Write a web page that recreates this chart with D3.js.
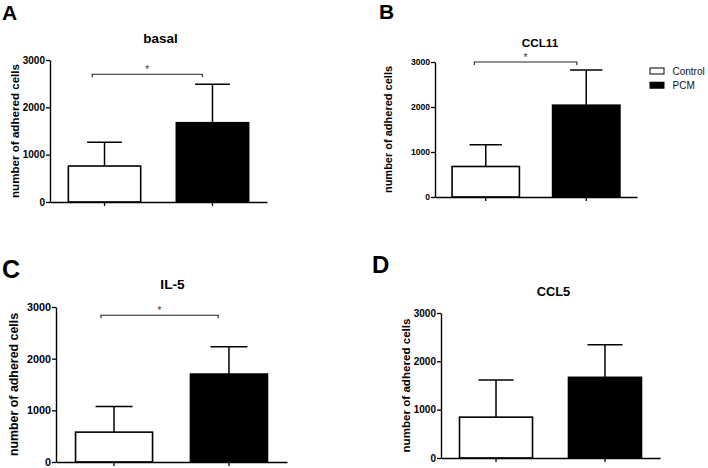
<!DOCTYPE html>
<html><head><meta charset="utf-8">
<script src="https://cdn.jsdelivr.net/npm/d3@7"></script>
<style>
html,body{margin:0;padding:0;background:#fff;}
text{font-family:"Liberation Sans",Arial,Helvetica,sans-serif;}
</style></head>
<body><svg id="c" width="708" height="468"></svg>
<script>
// ---- data ----
const groups = ["Control", "PCM"];
const panelTitles = ["basal", "CCL11", "IL-5", "CCL5"];
const panelLetters = ["A", "B", "C", "D"];
const controlMean = [760, 678, 578, 845];
const controlSD   = [501, 482, 494, 768];
const pcmMean     = [1675, 2040, 1702, 1669];
const pcmSD       = [811, 783, 527, 672];
const sigLevel    = [2700, 3000, 2840, null];   // bracket height (value units); null = no bracket
const sigLabel    = ["*", "*", "*", ""];
const yTicks      = [0, 1000, 2000, 3000];
const yLabel      = "number of adhered cells";

// ---- layout (per panel) ----
const layout = [
  {left:50,  right:267, top:60,  bottom:202, letterX:2,   letterY:20,  letterSize:21, titleY:43,  titleSize:13.5, titleDx:2,  ylabX:14,  ylabSize:11.6, tickSize:10},
  {left:435, right:637, top:62,  bottom:197, letterX:379, letterY:18.5,letterSize:21, titleY:46.5,titleSize:11.7, titleDx:4,  ylabX:388, ylabSize:11,   tickSize:8.6},
  {left:56,  right:287, top:307, bottom:462, letterX:2,   letterY:278, letterSize:25, titleY:289, titleSize:13.7, titleDx:1,  ylabX:14,  ylabSize:12.4, tickSize:10.8},
  {left:441, right:660, top:313, bottom:458, letterX:372, letterY:273, letterSize:24, titleY:296, titleSize:12.8, titleDx:3,  ylabX:405, ylabSize:11.6, tickSize:10}
];

const svg = d3.select("#c");

panelTitles.forEach((title, i) => {
  const L = layout[i];
  const g = svg.append("g");
  const y = d3.scaleLinear().domain([0, 3000]).range([L.bottom, L.top]);
  const x = d3.scaleBand().domain(groups).range([L.left, L.right]).paddingInner(0.33).paddingOuter(0.17);
  const bw = x.bandwidth();
  const vals = [
    {g: groups[0], m: controlMean[i], sd: controlSD[i], fill: "#fff"},
    {g: groups[1], m: pcmMean[i],     sd: pcmSD[i],     fill: "#000"}
  ];

  // bars
  g.selectAll("rect.bar").data(vals).join("rect")
    .attr("x", d => x(d.g)).attr("width", bw)
    .attr("y", d => y(d.m)).attr("height", d => y(0) - y(d.m))
    .attr("fill", d => d.fill).attr("stroke", "#000").attr("stroke-width", 1.6);

  // error bars (upper only)
  vals.forEach(d => {
    const cx = x(d.g) + bw / 2;
    g.append("line").attr("x1", cx).attr("x2", cx).attr("y1", y(d.m)).attr("y2", y(d.m + d.sd))
      .attr("stroke", "#000").attr("stroke-width", 1.5);
    g.append("line").attr("x1", cx - bw * 0.24).attr("x2", cx + bw * 0.24)
      .attr("y1", y(d.m + d.sd)).attr("y2", y(d.m + d.sd))
      .attr("stroke", "#000").attr("stroke-width", 1.5);
  });

  // axes
  const ya = g.append("g").attr("transform", `translate(${L.left},0)`)
    .call(d3.axisLeft(y).tickValues(yTicks).tickFormat(d3.format("d")).tickSize(4).tickSizeOuter(0).tickPadding(1));
  ya.selectAll("text").attr("font-size", L.tickSize).attr("font-weight", "bold").attr("fill", "#000");
  const xa = g.append("g").attr("transform", `translate(0,${L.bottom})`)
    .call(d3.axisBottom(x).tickFormat("").tickSize(4).tickSizeOuter(0));
  [ya, xa].forEach(a => {
    a.select(".domain").attr("stroke", "#000").attr("stroke-width", 1.4);
    a.selectAll(".tick line").attr("stroke", "#000").attr("stroke-width", 1.3);
  });

  // y label
  g.append("text")
    .attr("transform", `translate(${L.ylabX},${(L.top + L.bottom) / 2}) rotate(-90)`)
    .attr("text-anchor", "middle").attr("dominant-baseline", "central")
    .attr("font-size", L.ylabSize).attr("font-weight", "bold").text(yLabel);

  // title
  g.append("text").attr("x", (L.left + L.right) / 2 + L.titleDx).attr("y", L.titleY)
    .attr("text-anchor", "middle").attr("font-size", L.titleSize).attr("font-weight", "bold").text(title);

  // panel letter
  g.append("text").attr("x", L.letterX).attr("y", L.letterY)
    .attr("font-size", L.letterSize).attr("font-weight", "bold").text(panelLetters[i]);

  // significance bracket
  if (sigLevel[i] !== null) {
    const x1 = x(groups[0]) + bw / 2 - bw * 0.17;
    const x2 = x(groups[1]) + bw / 2 - bw * 0.14;
    const by = y(sigLevel[i]);
    g.append("path").attr("d", `M${x1},${by + 3}V${by}H${x2}V${by + 3}`)
      .attr("fill", "none").attr("stroke", "#222").attr("stroke-width", 1.1);
    g.append("text").attr("x", (x1 + x2) / 2).attr("y", by - 1.5)
      .attr("text-anchor", "middle").attr("font-size", 10).attr("fill", "#333").text(sigLabel[i]);
  }
});

// legend (beside panel B)
const leg = svg.append("g");
const legFill = ["#fff", "#000"];
groups.forEach((name, k) => {
  leg.append("rect").attr("x", 650).attr("y", 68 + k * 14.2).attr("width", 14).attr("height", 6)
    .attr("fill", legFill[k]).attr("stroke", "#000").attr("stroke-width", 1);
  leg.append("text").attr("x", 672.5).attr("y", 75 + k * 14.2).attr("font-size", 10).attr("fill", "#111").text(name);
});
</script>
</body></html>
